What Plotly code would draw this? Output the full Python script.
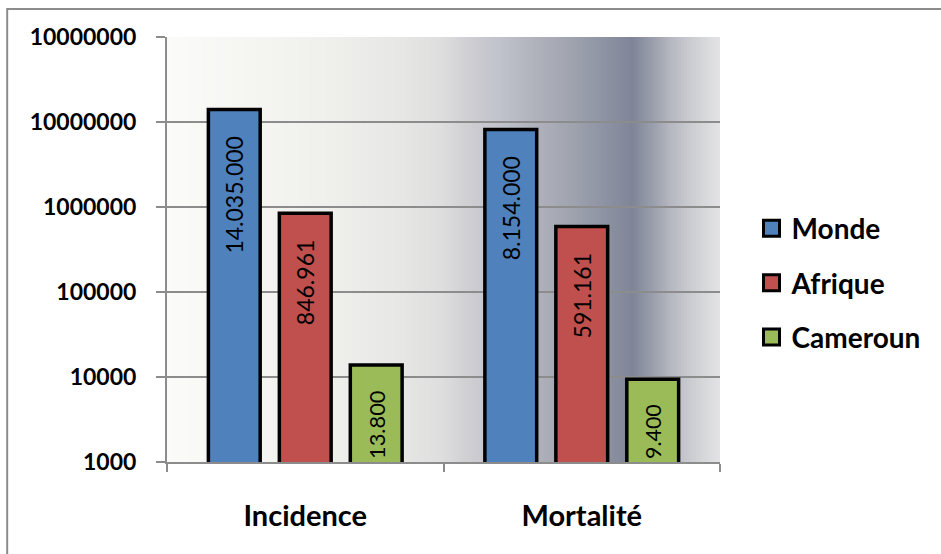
import plotly.graph_objects as go

# --- data ---
categories = ["Incidence", "Mortalité"]
series_names = ["Monde", "Afrique", "Cameroun"]
monde = [14035000, 8154000]
afrique = [846961, 591161]
cameroun = [13800, 9400]
tick_values = [1e3, 1e4, 1e5, 1e6, 1e7, 1e8]
tick_labels = ["1000", "10000", "100000", "1000000", "10000000", "10000000"]

# --- style ---
colors = ["#4f81bd", "#c0504d", "#9bbb59"]
FONT = "Lato"
grid_color = "#8c8c8c"

# horizontal background gradient (fraction of plot width, colour)
gradient_stops = [
    (0.000, "#fbfbf9"), (0.177, "#f4f4f1"), (0.298, "#efefec"),
    (0.418, "#e7e7e6"), (0.497, "#dedede"), (0.553, "#cdcdd2"),
    (0.602, "#c0c3cb"), (0.674, "#aeb1ba"), (0.734, "#9fa3ae"),
    (0.796, "#8d92a2"), (0.843, "#7f8598"), (0.886, "#a0a4b0"),
    (0.915, "#b8bac3"), (0.946, "#cacbd0"), (0.976, "#d8d9dc"),
    (1.000, "#e3e3e5"),
]


def hex_to_rgb(h):
    h = h.lstrip("#")
    return tuple(int(h[i:i + 2], 16) for i in (0, 2, 4))


def color_at(f):
    for (f0, c0), (f1, c1) in zip(gradient_stops, gradient_stops[1:]):
        if f0 <= f <= f1:
            t = 0 if f1 == f0 else (f - f0) / (f1 - f0)
            a, b = hex_to_rgb(c0), hex_to_rgb(c1)
            r = [round(a[i] + (b[i] - a[i]) * t) for i in range(3)]
            return f"rgb({r[0]},{r[1]},{r[2]})"
    return gradient_stops[-1][1]


def fmt(v):
    # thousands separated by dots, padded so the label sits below the bar top
    return f"{v:,}".replace(",", ".") + "\u00a0\u00a0\u00a0\u00a0"


fig = go.Figure()
for name, vals, col in zip(series_names, [monde, afrique, cameroun], colors):
    fig.add_trace(go.Bar(
        name=name, x=categories, y=vals,
        marker=dict(color=col, line=dict(color="black", width=3.5)),
        text=[fmt(v) for v in vals],
        textposition="inside", insidetextanchor="end", textangle=-90,
        textfont=dict(family=FONT, size=23, color="black"),
        showlegend=False,
        hoverinfo="x+y+name",
    ))

# legend entries with large square swatches
for name, col in zip(series_names, colors):
    fig.add_trace(go.Scatter(
        name=name, x=[None], y=[None], mode="markers",
        marker=dict(symbol="square", size=16, color=col,
                    line=dict(color="black", width=3)),
        legendgroup=name, showlegend=True, hoverinfo="skip",
    ))

shapes = []
n_strips = 185
for i in range(n_strips):
    x0 = i / n_strips
    x1 = (i + 1) / n_strips + 0.002
    shapes.append(dict(
        type="rect", xref="paper", yref="paper", x0=x0, x1=min(x1, 1.0),
        y0=0, y1=1, fillcolor=color_at((x0 + x1) / 2), line=dict(width=0),
        layer="below",
    ))
# outer chart frame
shapes.append(dict(
    type="rect", xref="paper", yref="paper", x0=-0.289, x1=1.41,
    y0=-0.25, y1=1.066, line=dict(color="#8c8c8c", width=2),
    fillcolor="rgba(0,0,0,0)", layer="above",
))

fig.update_layout(
    width=941, height=554,
    margin=dict(l=167, r=221, t=37, b=92),
    paper_bgcolor="white", plot_bgcolor="white",
    barmode="group", bargap=0.23, bargroupgap=0.27,
    shapes=shapes,
    showlegend=True,
    legend=dict(
        x=1.057, y=0.608, xanchor="left", yanchor="top",
        font=dict(family=FONT, size=28, color="black", weight="bold"),
        tracegroupgap=15, bgcolor="rgba(0,0,0,0)", itemsizing="trace",
    ),
    xaxis=dict(
        type="category", showline=True, linecolor=grid_color, linewidth=2,
        ticks="outside", tickson="boundaries", ticklen=8, tickwidth=2,
        tickcolor=grid_color, showgrid=False,
        tickfont=dict(family=FONT, size=29, color="black", weight="bold"),
        ticklabelstandoff=27,
    ),
    yaxis=dict(
        type="log", range=[3, 8], tickvals=tick_values, ticktext=tick_labels,
        showline=True, linecolor=grid_color, linewidth=2,
        ticks="outside", ticklen=9, tickwidth=2, tickcolor=grid_color,
        showgrid=True, gridcolor=grid_color, gridwidth=1.5,
        zeroline=False,
        tickfont=dict(family=FONT, size=23, color="black", weight="bold"),
        ticklabelstandoff=15,
    ),
)

fig.write_html("out.html")
